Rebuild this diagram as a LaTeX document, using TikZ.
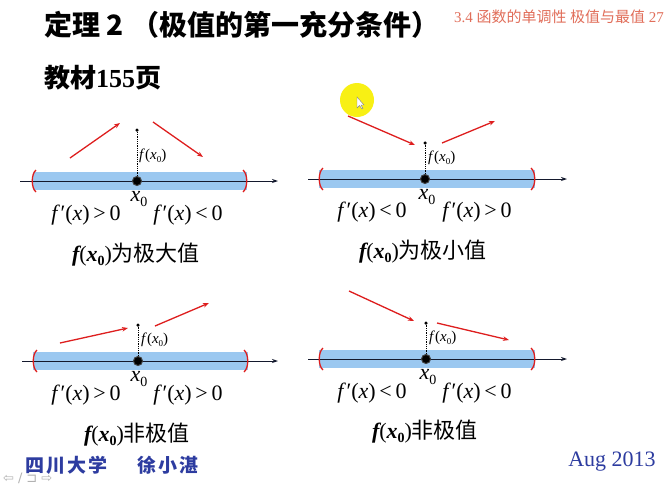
\documentclass[tikz,border=0pt]{standalone}
\usepackage{fontspec}
\setmainfont{Liberation Serif}
\newfontfamily\cjk{Noto Sans CJK SC}
\newfontfamily\symf{DejaVu Sans}
\usetikzlibrary{arrows.meta}
\definecolor{bandblue}{RGB}{155,200,240}
\definecolor{arrred}{RGB}{222,30,30}
\definecolor{footblue}{RGB}{45,60,160}
\definecolor{hdrred}{RGB}{225,110,90}
\definecolor{hilite}{RGB}{248,240,20}
\definecolor{axisc}{RGB}{20,25,45}
\newcommand\fpx{\textit{f}\kern0.5pt′(\textit{x})}
\newcommand\xsub{\textit{x}\raisebox{-5pt}{\fontsize{14}{14}\selectfont 0}}
\newcommand\fxo{{\bfseries\itshape f}(\textbf{\textit{x}}\raisebox{-4pt}{\fontsize{14}{14}\selectfont\bfseries 0})}
\newcommand\fsmall{\textit{f}(\textit{x}\raisebox{-2.5pt}{\fontsize{9}{9}\selectfont 0})}
\newcommand\lbr[2]{\draw[brk] (#1+4,#2-11) .. controls (#1-1,#2-7) and (#1-1,#2+7) .. (#1+4,#2+11);}
\newcommand\rbr[2]{\draw[brk] (#1-4,#2-11) .. controls (#1+1,#2-7) and (#1+1,#2+7) .. (#1-4,#2+11);}
\tikzset{
 band/.style={fill=bandblue, draw=none},
 axisline/.style={draw=axisc, line width=0.9pt, -{Stealth[length=6pt,width=4pt]}},
 trend/.style={draw=arrred, line width=1.3pt, -{Stealth[length=6pt,width=4.5pt]}},
 brk/.style={draw=arrred, line width=1.3pt},
 xpt/.style={circle, fill=black, draw=black!75, line width=1pt, minimum size=9pt, inner sep=0pt},
 topdot/.style={circle, fill=black, minimum size=3.5pt, inner sep=0pt},
 drop/.style={draw=black, densely dotted, line width=0.8pt},
 deriv/.style={font=\fontsize{22}{22}\selectfont, inner sep=0pt},
 xlab/.style={font=\fontsize{22}{22}\selectfont, inner sep=0pt},
 fval/.style={font=\fontsize{15}{15}\selectfont, inner sep=0pt, anchor=west},
 capt/.style={font=\fontsize{22}{22}\selectfont, inner sep=0pt},
}
\begin{document}
\begin{tikzpicture}[x=1pt,y=-1pt]
\useasboundingbox[fill=white] (0,0) rectangle (664,485);

% titles
\node[anchor=west, inner sep=0pt, font=\fontsize{28}{28}\selectfont\cjk\bfseries] (title) at (44,25) {定理 2\hspace{8pt}（极值的第一充分条件）};
\node[anchor=west, inner sep=0pt, font=\fontsize{26}{26}\selectfont\bfseries] (book) at (44,78) {{\cjk 教材}155{\cjk 页}};
\node[anchor=west, inner sep=0pt, text=hdrred, font=\fontsize{15}{15}\selectfont] (hdr) at (454,17) {3.4 {\cjk 函数的单调性 极值与最值} 27};

% highlight
\node[circle, fill=hilite, minimum size=34pt, inner sep=0pt] (hl) at (357,100) {};
\draw[fill=white, draw=black!50, line width=0.4pt] (357,97) -- (357,108) -- (359.5,105.5) -- (362,109) -- (363,108.5) -- (361,105) -- (364,105) -- cycle;

% ===== panel 1 =====
\fill[band] (33,172) rectangle (247,190);
\coordinate (a1s) at (20,181); \coordinate (a1e) at (278,181);
\draw[axisline] (a1s) -- (a1e);
\lbr{32}{181} \rbr{247}{181}
\node[topdot] (t1) at (137,130) {};
\node[xpt] (p1) at (137,181) {};
\draw[drop] (p1) -- (t1);
\node[fval] (v1) at (139,156) {\fsmall};
\coordinate (l1s) at (70,158); \coordinate (l1e) at (120,123);
\coordinate (r1s) at (153,122); \coordinate (r1e) at (203,157);
\draw[trend] (l1s) -- (l1e);
\draw[trend] (r1s) -- (r1e);
\node[deriv] (d1l) at (86,215) {\fpx\,>\,0};
\node[xlab] (x1) at (139,199) {\xsub};
\node[deriv] (d1r) at (188,215) {\fpx\,<\,0};
\node[capt] (c1) at (136,255) {\fxo{\cjk 为极大值}};

% ===== panel 2 =====
\fill[band] (319,170) rectangle (535,188);
\coordinate (a2s) at (308,179); \coordinate (a2e) at (567,179);
\draw[axisline] (a2s) -- (a2e);
\lbr{319}{179} \rbr{535}{179}
\node[topdot] (t2) at (425,143) {};
\node[xpt] (p2) at (425,179) {};
\draw[drop] (p2) -- (t2);
\node[fval] (v2) at (428,158) {\fsmall};
\coordinate (l2s) at (348,116); \coordinate (l2e) at (415,145);
\coordinate (r2s) at (442,143); \coordinate (r2e) at (495,121);
\draw[trend] (l2s) -- (l2e);
\draw[trend] (r2s) -- (r2e);
\node[deriv] (d2l) at (372,212) {\fpx\,<\,0};
\node[xlab] (x2) at (427,197) {\xsub};
\node[deriv] (d2r) at (477,212) {\fpx\,>\,0};
\node[capt] (c2) at (423,252) {\fxo{\cjk 为极小值}};

% ===== panel 3 =====
\fill[band] (33,352) rectangle (248,370);
\coordinate (a3s) at (22,361); \coordinate (a3e) at (278,361);
\draw[axisline] (a3s) -- (a3e);
\lbr{33}{361} \rbr{248}{361}
\node[topdot] (t3) at (138,325) {};
\node[xpt] (p3) at (138,361) {};
\draw[drop] (p3) -- (t3);
\node[fval] (v3) at (141,340) {\fsmall};
\coordinate (l3s) at (60,343); \coordinate (l3e) at (128,328);
\coordinate (r3s) at (155,326); \coordinate (r3e) at (209,303);
\draw[trend] (l3s) -- (l3e);
\draw[trend] (r3s) -- (r3e);
\node[deriv] (d3l) at (86,395) {\fpx\,>\,0};
\node[xlab] (x3) at (139,379) {\xsub};
\node[deriv] (d3r) at (188,395) {\fpx\,>\,0};
\node[capt] (c3) at (137,435) {\fxo{\cjk 非极值}};

% ===== panel 4 =====
\fill[band] (319,350) rectangle (535,368);
\coordinate (a4s) at (308,359); \coordinate (a4e) at (567,359);
\draw[axisline] (a4s) -- (a4e);
\lbr{319}{359} \rbr{535}{359}
\node[topdot] (t4) at (426,323) {};
\node[xpt] (p4) at (426,359) {};
\draw[drop] (p4) -- (t4);
\node[fval] (v4) at (429,338) {\fsmall};
\coordinate (l4s) at (349,291); \coordinate (l4e) at (414,321);
\coordinate (r4s) at (437,323); \coordinate (r4e) at (509,340);
\draw[trend] (l4s) -- (l4e);
\draw[trend] (r4s) -- (r4e);
\node[deriv] (d4l) at (372,393) {\fpx\,<\,0};
\node[xlab] (x4) at (428,377) {\xsub};
\node[deriv] (d4r) at (477,393) {\fpx\,<\,0};
\node[capt] (c4) at (425,432) {\fxo{\cjk 非极值}};

% footer
\node[anchor=west, inner sep=0pt, text=footblue, font=\fontsize{19}{19}\selectfont\cjk\bfseries] (auth) at (25,465) {四\hspace{2pt}川\hspace{2pt}大\hspace{2pt}学\hspace{30pt}徐\hspace{2pt}小\hspace{2pt}湛};
\node[inner sep=0pt, text=footblue, font=\fontsize{22}{22}\selectfont] (date) at (612,462) {Aug 2013};
\node[anchor=west, inner sep=0pt, text=black!30, font=\fontsize{13}{13}\selectfont\symf] (nav) at (3,478) {⇦\hspace{4pt}∕\hspace{4pt}⊐\hspace{4pt}⇨};
\end{tikzpicture}
\end{document}
